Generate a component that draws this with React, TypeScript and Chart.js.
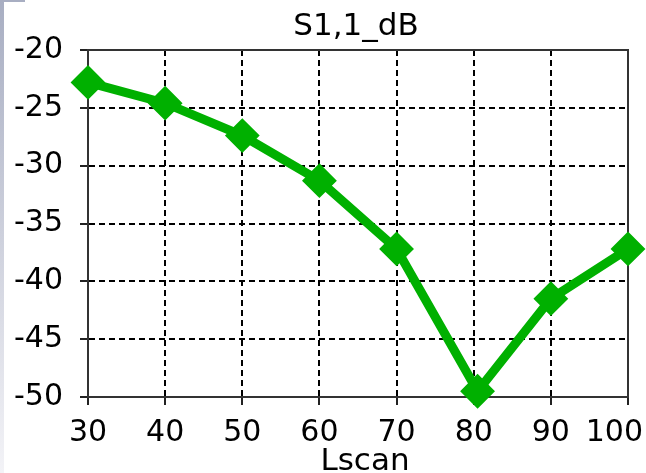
import React, { useEffect, useRef } from "react";
import { Chart, registerables } from "chart.js";

Chart.register(...registerables);

const chartTitle = "S1,1_dB";
const xAxisTitle = "Lscan";
const lscan = [30, 40, 50, 60, 70, 80.5, 90, 100];
const s11dB = [-22.8, -24.6, -27.4, -31.3, -37.2, -49.5, -41.5, -37.2];
const xMin = 30;
const xMax = 100;
const xStep = 10;
const yMin = -50;
const yMax = -20;
const yStep = 5;

const FONT = "'DejaVu Sans', Verdana, sans-serif";
const GREEN = "#00b000";

const decorPlugin = {
  id: "decor",
  beforeDraw(chart: any) {
    const { ctx, width, height } = chart;
    ctx.save();
    ctx.fillStyle = "#ffffff";
    ctx.fillRect(0, 0, width, height);
    const g = ctx.createLinearGradient(0, 0, 0, height);
    g.addColorStop(0, "#a8aec2");
    g.addColorStop(1, "#f3f3f7");
    ctx.fillStyle = g;
    ctx.fillRect(0, 0, 4, height);
    ctx.fillStyle = "#a8aec2";
    ctx.fillRect(0, 0, 25, 2);
    ctx.restore();
  },
  beforeDatasetsDraw(chart: any) {
    const { ctx, chartArea } = chart;
    ctx.save();
    ctx.strokeStyle = "#333333";
    ctx.lineWidth = 2;
    ctx.setLineDash([]);
    ctx.strokeRect(
      chartArea.left,
      chartArea.top,
      chartArea.right - chartArea.left,
      chartArea.bottom - chartArea.top
    );
    ctx.restore();
  },
  afterDraw(chart: any) {
    const { ctx, chartArea, width } = chart;
    const xs = chart.scales.x;
    ctx.save();
    ctx.fillStyle = "#000000";
    ctx.textBaseline = "alphabetic";
    ctx.textAlign = "center";
    ctx.font = `30px ${FONT}`;
    xs.ticks.forEach((t: any) => {
      const label = String(t.value);
      const w = ctx.measureText(label).width;
      let px = xs.getPixelForValue(t.value);
      if (px + w / 2 > width - 3) px = width - 3 - w / 2;
      ctx.fillText(label, px, 441);
    });
    const cx = (chartArea.left + chartArea.right) / 2;
    ctx.font = `31px ${FONT}`;
    ctx.fillText(chartTitle, cx - 2, 35);
    ctx.fillText(xAxisTitle, cx + 7, 470);
    ctx.restore();
  },
};

const gridOpts: any = {
  color: "#000000",
  lineWidth: 2,
  tickLength: 8,
  tickWidth: 2,
  tickColor: "#222222",
  tickBorderDash: [],
};

const borderOpts: any = {
  display: true,
  color: "#333333",
  width: 2,
  dash: [6, 4],
};

export default function App() {
  const ref = useRef<HTMLCanvasElement | null>(null);
  useEffect(() => {
    if (!ref.current) return;
    const chart = new Chart(ref.current, {
      type: "line",
      data: {
        datasets: [
          {
            label: chartTitle,
            data: lscan.map((x, i) => ({ x, y: s11dB[i] })),
            borderColor: GREEN,
            backgroundColor: GREEN,
            borderWidth: 9,
            pointStyle: "rectRot",
            pointRadius: 16,
            pointBorderWidth: 2,
            pointBackgroundColor: GREEN,
            pointBorderColor: GREEN,
            tension: 0,
            clip: false as any,
          },
        ],
      },
      options: {
        animation: false,
        responsive: false,
        events: [],
        layout: { padding: { top: 50, right: 17, left: 0, bottom: 0 } },
        plugins: {
          legend: { display: false },
          title: { display: false },
          tooltip: { enabled: false },
        },
        scales: {
          x: {
            type: "linear",
            min: xMin,
            max: xMax,
            ticks: { display: false, stepSize: xStep },
            grid: gridOpts,
            border: borderOpts,
            afterFit(scale: any) {
              scale.height = 76;
            },
          },
          y: {
            type: "linear",
            min: yMin,
            max: yMax,
            ticks: {
              stepSize: yStep,
              padding: 17,
              color: "#000000",
              font: { family: FONT, size: 30 },
            },
            grid: gridOpts,
            border: borderOpts,
            afterFit(scale: any) {
              scale.width = 88;
            },
          },
        },
      },
      plugins: [decorPlugin],
    });
    return () => chart.destroy();
  }, []);
  return (
    <div
      style={{
        position: "fixed",
        left: 0,
        top: 0,
        width: 646,
        height: 473,
        overflow: "hidden",
        background: "#ffffff",
      }}
    >
      <canvas ref={ref} width={646} height={473} style={{ display: "block" }} />
    </div>
  );
}
